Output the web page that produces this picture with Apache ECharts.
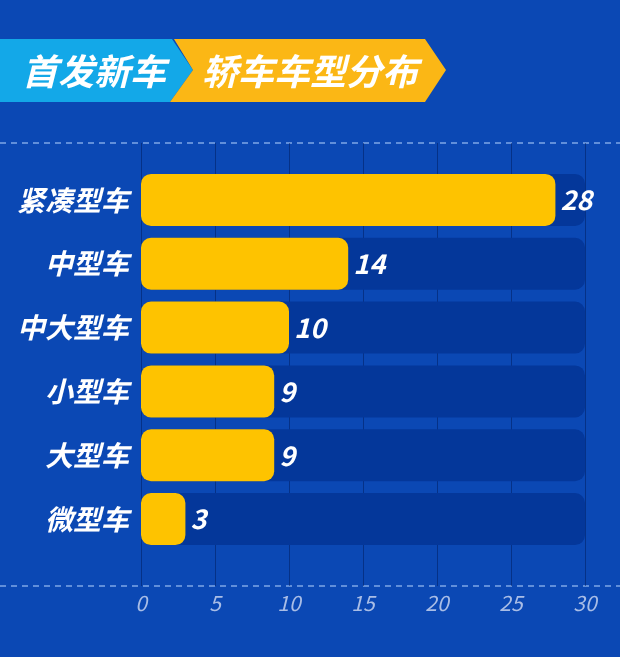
<!DOCTYPE html>
<html><head><meta charset="utf-8">
<script src="https://cdn.jsdelivr.net/npm/echarts@6/dist/echarts.min.js"></script>
<style>html,body{margin:0;padding:0;background:#0b48b4;}#c{width:620px;height:657px;}</style>
</head><body><div id="c"></div>
<script>
const categories = ['紧凑型车','中型车','中大型车','小型车','大型车','微型车'];
const values = [28,14,10,9,9,3];
const titleLeft = '首发新车';
const titleRight = '轿车车型分布';

const chart = echarts.init(document.getElementById('c'));
const F = '"Noto Sans CJK SC", "Noto Sans", sans-serif';
chart.setOption({
  backgroundColor: '#0b48b4',
  animation: false,
  grid: [
    {left: 141, right: 35, top: 168, bottom: 106},
    {left: 141, right: 35, top: 143, bottom: 71}
  ],
  xAxis: [
    {gridIndex: 0, type: 'value', min: 0, max: 30, interval: 5,
     axisLine: {show: false}, axisTick: {show: false}, splitLine: {show: false},
     axisLabel: {show: false}},
    {gridIndex: 1, type: 'value', min: 0, max: 30, interval: 5,
     axisLine: {show: false}, axisTick: {show: false},
     splitLine: {show: true, lineStyle: {color: 'rgba(0,25,90,0.5)', width: 1}},
     axisLabel: {color: '#a9bde6', fontFamily: F, fontStyle: 'italic', fontSize: 21, margin: 7}}
  ],
  yAxis: [
    {gridIndex: 0, type: 'category', data: categories, inverse: true,
     axisLine: {show: false}, axisTick: {show: false},
     axisLabel: {color: '#ffffff', fontFamily: F, fontStyle: 'italic', fontWeight: 'bold', fontSize: 28, margin: 12}},
    {gridIndex: 1, type: 'category', data: [''], show: false}
  ],
  graphic: [
    {type: 'line', shape: {x1: 0, y1: 143, x2: 620, y2: 143}, style: {stroke: '#7fa6e6', lineWidth: 1.5, lineDash: [6, 5]}},
    {type: 'line', shape: {x1: 0, y1: 586, x2: 620, y2: 586}, style: {stroke: '#7fa6e6', lineWidth: 1.5, lineDash: [6, 5]}},
    {type: 'polygon', shape: {points: [[0,39],[172,39],[193,70],[170,102],[0,102]]}, style: {fill: '#13a8e8'}},
    {type: 'polygon', shape: {points: [[174,39],[425,39],[446,70],[425,102],[170,102],[193,70]]}, style: {fill: '#fbb715'}},
    {type: 'text', x: 94, y: 71, style: {text: titleLeft, fill: '#ffffff', font: 'italic bold 36px ' + F, textAlign: 'center', textVerticalAlign: 'middle'}},
    {type: 'text', x: 310, y: 71, style: {text: titleRight, fill: '#ffffff', font: 'italic bold 36px ' + F, textAlign: 'center', textVerticalAlign: 'middle'}}
  ],
  series: [{
    type: 'bar', xAxisIndex: 0, yAxisIndex: 0,
    data: values, barWidth: 52,
    showBackground: true,
    backgroundStyle: {color: '#04379a', borderRadius: 10},
    itemStyle: {color: '#fec300', borderRadius: 10},
    label: {show: true, position: 'right', distance: 5, color: '#ffffff',
            fontFamily: F, fontStyle: 'italic', fontWeight: 'bold', fontSize: 27}
  }]
});
</script></body></html>
